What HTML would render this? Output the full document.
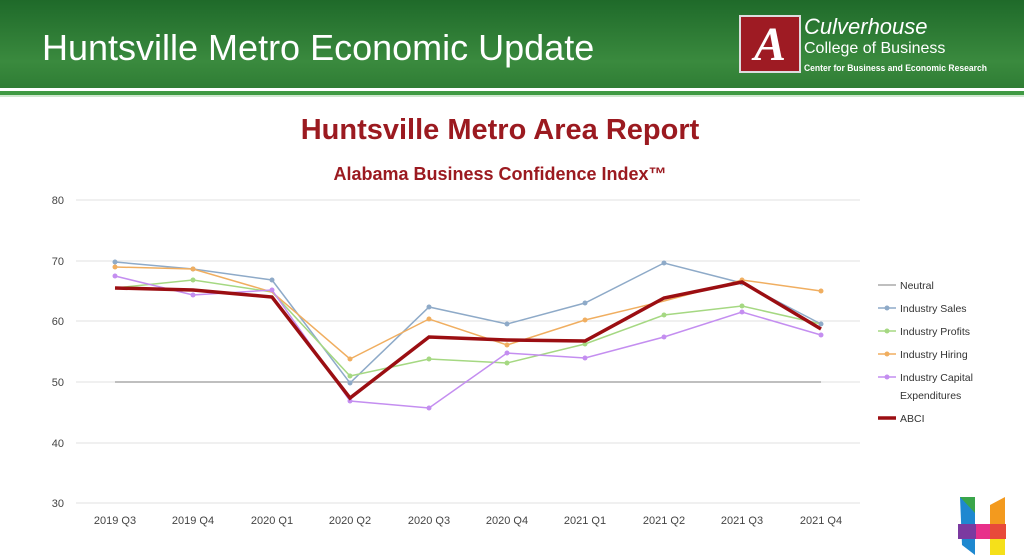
<!DOCTYPE html>
<html><head><style>
body{margin:0;width:1024px;height:560px;overflow:hidden;background:#fff;font-family:"Liberation Sans",sans-serif;position:relative}
.hdr{position:absolute;left:0;top:0;width:1024px;height:88px;background:linear-gradient(#1f6a2a,#3a8a3e 70%,#2f7d34)}
</style></head><body>
<div class="hdr"></div>
<div style="position:absolute;top:88px;left:0;width:1024px;height:3px;background:#fff"></div>
<div style="position:absolute;top:91px;left:0;width:1024px;height:4px;background:#3f9a43"></div>
<div style="position:absolute;top:95px;left:0;width:1024px;height:2px;background:#cfe8cf"></div>
<div style="position:absolute;left:42px;top:27px;color:#fff;font-size:36px">Huntsville Metro Economic Update</div>
<div style="position:absolute;left:739px;top:15px;width:62px;height:58px;background:#9e1b23;border:2px solid #ddd;box-sizing:border-box;color:#fff;font:italic bold 48px 'Liberation Serif',serif;text-align:center;line-height:56px">A</div>
<div style="position:absolute;left:804px;top:14px;color:#fff;font-style:italic;font-size:22px">Culverhouse</div>
<div style="position:absolute;left:804px;top:40px;color:#fff;font-size:16px">College of Business</div>
<div style="position:absolute;left:804px;top:63px;color:#fff;font-size:9px;font-weight:bold;transform:scaleX(0.95);transform-origin:left">Center for Business and Economic Research</div>
<svg width="1024" height="560" style="position:absolute;left:0;top:0" font-family="Liberation Sans, sans-serif">
<text x="500" y="139" text-anchor="middle" font-size="29" font-weight="bold" fill="#9b1a20">Huntsville Metro Area Report</text>
<text x="500" y="180" text-anchor="middle" font-size="18" font-weight="bold" fill="#9b1a20">Alabama Business Confidence Index™</text>
<g stroke="#e0e0e0" stroke-width="1">
<line x1="76" x2="860" y1="200" y2="200"/><line x1="76" x2="860" y1="261" y2="261"/><line x1="76" x2="860" y1="321" y2="321"/><line x1="76" x2="860" y1="382" y2="382"/><line x1="76" x2="860" y1="443" y2="443"/><line x1="76" x2="860" y1="503" y2="503"/>
</g>
<g font-size="11" fill="#444" text-anchor="end">
<text x="64" y="204">80</text><text x="64" y="265">70</text><text x="64" y="325">60</text><text x="64" y="386">50</text><text x="64" y="447">40</text><text x="64" y="507">30</text>
</g>
<g font-size="11" fill="#444" text-anchor="middle">
<text x="115" y="524">2019 Q3</text><text x="193" y="524">2019 Q4</text><text x="272" y="524">2020 Q1</text><text x="350" y="524">2020 Q2</text><text x="429" y="524">2020 Q3</text><text x="507" y="524">2020 Q4</text><text x="585" y="524">2021 Q1</text><text x="664" y="524">2021 Q2</text><text x="742" y="524">2021 Q3</text><text x="821" y="524">2021 Q4</text>
</g>
<line x1="115" x2="821" y1="382" y2="382" stroke="#bfbfbf" stroke-width="2"/>
<g fill="none" stroke-width="1.5">
<polyline stroke="#8eaac8" points="115,262 193,269 272,280 350,383 429,307 507,324 585,303 664,263 742,283 821,324"/>
<polyline stroke="#a5d882" points="115,288 193,280 272,292 350,376 429,359 507,363 585,344 664,315 742,306 821,324"/>
<polyline stroke="#f0ae60" points="115,267 193,269 272,292 350,359 429,319 507,345 585,320 664,301 742,280 821,291"/>
<polyline stroke="#c48ef0" points="115,276 193,295 272,290 350,401 429,408 507,353 585,358 664,337 742,312 821,335"/>
</g>
<g stroke="none">
<g fill="#8eaac8"><circle cx="115" cy="262" r="2.5"/><circle cx="193" cy="269" r="2.5"/><circle cx="272" cy="280" r="2.5"/><circle cx="350" cy="383" r="2.5"/><circle cx="429" cy="307" r="2.5"/><circle cx="507" cy="324" r="2.5"/><circle cx="585" cy="303" r="2.5"/><circle cx="664" cy="263" r="2.5"/><circle cx="742" cy="283" r="2.5"/><circle cx="821" cy="324" r="2.5"/></g>
<g fill="#a5d882"><circle cx="193" cy="280" r="2.5"/><circle cx="350" cy="376" r="2.5"/><circle cx="429" cy="359" r="2.5"/><circle cx="507" cy="363" r="2.5"/><circle cx="585" cy="344" r="2.5"/><circle cx="664" cy="315" r="2.5"/><circle cx="742" cy="306" r="2.5"/></g>
<g fill="#f0ae60"><circle cx="115" cy="267" r="2.5"/><circle cx="193" cy="269" r="2.5"/><circle cx="350" cy="359" r="2.5"/><circle cx="429" cy="319" r="2.5"/><circle cx="507" cy="345" r="2.5"/><circle cx="585" cy="320" r="2.5"/><circle cx="742" cy="280" r="2.5"/><circle cx="821" cy="291" r="2.5"/></g>
<g fill="#c48ef0"><circle cx="115" cy="276" r="2.5"/><circle cx="193" cy="295" r="2.5"/><circle cx="272" cy="290" r="2.5"/><circle cx="350" cy="401" r="2.5"/><circle cx="429" cy="408" r="2.5"/><circle cx="507" cy="353" r="2.5"/><circle cx="585" cy="358" r="2.5"/><circle cx="664" cy="337" r="2.5"/><circle cx="742" cy="312" r="2.5"/><circle cx="821" cy="335" r="2.5"/></g>
</g>
<polyline fill="none" stroke="#9b0e12" stroke-width="3.5" points="115,288 193,290 272,297 350,398 429,337 507,340 585,341 664,298 742,282 821,329"/>
<g font-size="10.5" fill="#333">
<line x1="878" x2="896" y1="285" y2="285" stroke="#bfbfbf" stroke-width="2"/><text x="900" y="289">Neutral</text>
<line x1="878" x2="896" y1="308" y2="308" stroke="#8eaac8" stroke-width="1.5"/><circle cx="887" cy="308" r="2.5" fill="#8eaac8"/><text x="900" y="312">Industry Sales</text>
<line x1="878" x2="896" y1="331" y2="331" stroke="#a5d882" stroke-width="1.5"/><circle cx="887" cy="331" r="2.5" fill="#a5d882"/><text x="900" y="335">Industry Profits</text>
<line x1="878" x2="896" y1="354" y2="354" stroke="#f0ae60" stroke-width="1.5"/><circle cx="887" cy="354" r="2.5" fill="#f0ae60"/><text x="900" y="358">Industry Hiring</text>
<line x1="878" x2="896" y1="377" y2="377" stroke="#c48ef0" stroke-width="1.5"/><circle cx="887" cy="377" r="2.5" fill="#c48ef0"/><text x="900" y="381">Industry Capital</text><text x="900" y="399">Expenditures</text>
<line x1="878" x2="896" y1="418" y2="418" stroke="#9b0e12" stroke-width="3.5"/><text x="900" y="422">ABCI</text>
</g>
<g>
<polygon points="960,497 975,497 975,555 962,545" fill="#1e88d0"/>
<polygon points="960,497 975,497 975,513" fill="#3aa54a"/>
<polygon points="990,505 1005,497 1005,555 990,555" fill="#f39a1e"/>
<polygon points="990,538 1005,538 1005,555 990,555" fill="#f5e01a"/>
<rect x="958" y="524" width="48" height="15" fill="#e8308a"/>
<rect x="958" y="524" width="18" height="15" fill="#7b3aa0"/>
<rect x="990" y="524" width="16" height="15" fill="#e84a3a"/>
</g>
</svg>
</body></html>
